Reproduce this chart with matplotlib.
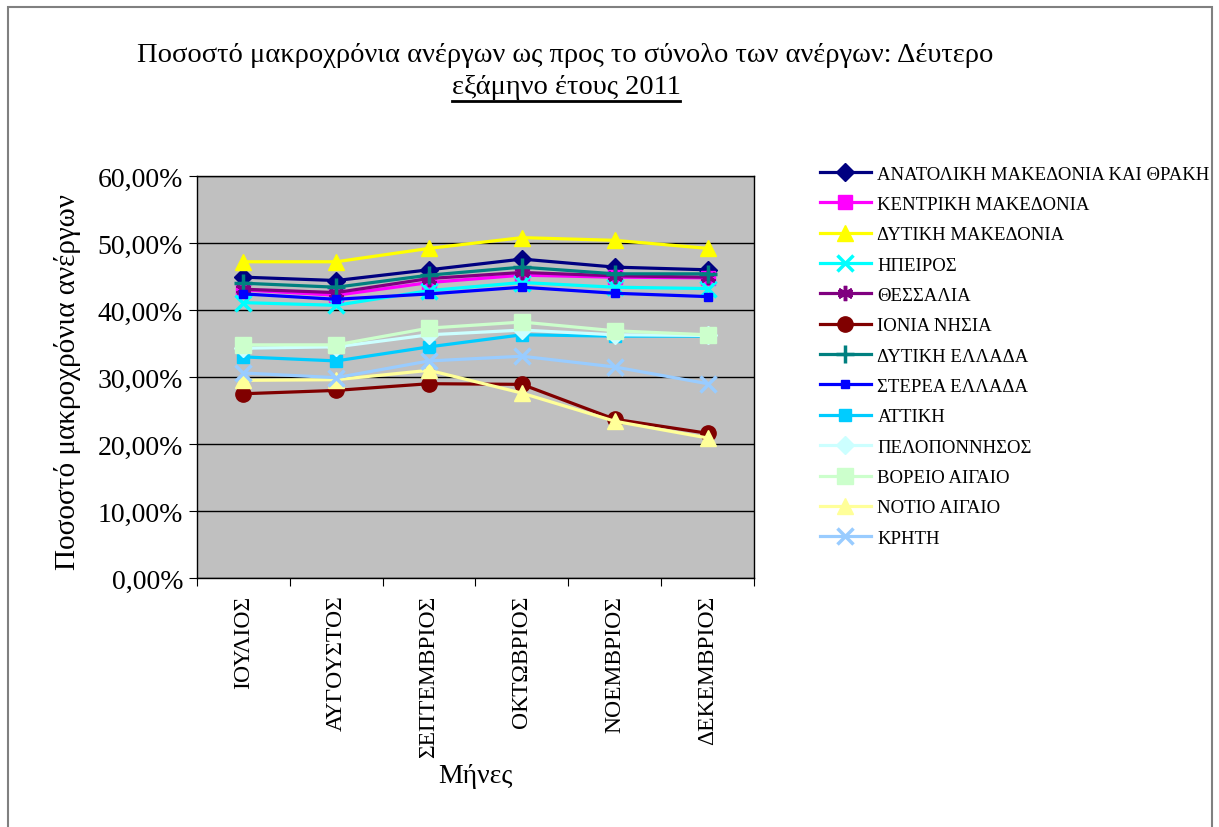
import matplotlib
matplotlib.use('Agg')
import matplotlib.pyplot as plt
from matplotlib.lines import Line2D
from matplotlib.patches import Rectangle
from matplotlib.ticker import FuncFormatter, FixedLocator

months = ["ΙΟΥΛΙΟΣ", "ΑΥΓΟΥΣΤΟΣ", "ΣΕΠΤΕΜΒΡΙΟΣ", "ΟΚΤΩΒΡΙΟΣ", "ΝΟΕΜΒΡΙΟΣ", "ΔΕΚΕΜΒΡΙΟΣ"]

regions = ["ΑΝΑΤΟΛΙΚΗ ΜΑΚΕΔΟΝΙΑ ΚΑΙ ΘΡΑΚΗ", "ΚΕΝΤΡΙΚΗ ΜΑΚΕΔΟΝΙΑ", "ΔΥΤΙΚΗ ΜΑΚΕΔΟΝΙΑ",
           "ΗΠΕΙΡΟΣ", "ΘΕΣΣΑΛΙΑ", "ΙΟΝΙΑ ΝΗΣΙΑ", "ΔΥΤΙΚΗ ΕΛΛΑΔΑ", "ΣΤΕΡΕΑ ΕΛΛΑΔΑ",
           "ΑΤΤΙΚΗ", "ΠΕΛΟΠΟΝΝΗΣΟΣ", "ΒΟΡΕΙΟ ΑΙΓΑΙΟ", "ΝΟΤΙΟ ΑΙΓΑΙΟ", "ΚΡΗΤΗ"]

anat_makedonia = [44.9, 44.4, 46.0, 47.6, 46.4, 46.0]
kentr_makedonia = [43.0, 42.2, 44.1, 45.2, 44.9, 44.8]
dyt_makedonia = [47.2, 47.2, 49.2, 50.8, 50.4, 49.2]
ipeiros = [41.1, 40.7, 42.9, 44.1, 43.4, 43.2]
thessalia = [43.1, 42.6, 44.7, 45.6, 45.1, 44.9]
ionia = [27.5, 28.0, 29.0, 28.9, 23.7, 21.6]
dyt_ellada = [44.0, 43.4, 45.2, 46.4, 45.4, 45.4]
sterea = [42.4, 41.6, 42.4, 43.4, 42.5, 42.0]
attiki = [33.0, 32.4, 34.5, 36.3, 36.1, 36.1]
peloponnisos = [34.3, 34.5, 36.3, 37.0, 36.3, 36.2]
voreio_aigaio = [34.8, 34.8, 37.3, 38.2, 36.9, 36.3]
notio_aigaio = [29.5, 29.6, 31.0, 27.6, 23.4, 20.9]
kriti = [30.6, 29.9, 32.4, 33.1, 31.5, 29.0]

series = [anat_makedonia, kentr_makedonia, dyt_makedonia, ipeiros, thessalia, ionia,
          dyt_ellada, sterea, attiki, peloponnisos, voreio_aigaio, notio_aigaio, kriti]

colors = ["#000080", "#FF00FF", "#FFFF00", "#00FFFF", "#800080", "#800000",
          "#008080", "#0000FF", "#00CCFF", "#CCFFFF", "#CCFFCC", "#FFFF99", "#99CCFF"]
markers = ["D", "s", "^", "x", (6, 2, 0), "o", "+", "s", "s", "D", "s", "^", "x"]
msizes = [9, 10, 11, 11, 11, 11, 13, 6, 8, 9, 11, 11, 12]
mews = [1, 1, 1, 2.5, 2.5, 1, 2.5, 1, 1, 1, 1, 1, 2.5]

plt.rcParams['font.family'] = ['Liberation Serif', 'DejaVu Serif']

W, H = 1219, 828
fig = plt.figure(figsize=(W / 100, H / 100), dpi=100)

# outer chart border
fig.add_artist(Rectangle((8 / W, -0.05), (1212 - 8) / W, 1 - 8 / H + 0.05,
                         transform=fig.transFigure, fill=False, ec="#808080", lw=1.5))

ax = fig.add_axes([197 / W, 1 - 579 / H, (754 - 197) / W, (579 - 177) / H])
ax.set_facecolor("#C0C0C0")

x = list(range(len(months)))
for name, vals, c, m, ms, mew in zip(regions, series, colors, markers, msizes, mews):
    ax.plot(x, vals, color=c, marker=m, ms=ms, mew=mew, mfc=c, mec=c, lw=2.3,
            label=name, clip_on=False, zorder=3)

ax.set_xlim(-0.5, 5.5)
ax.set_ylim(0, 60)
ax.yaxis.set_major_locator(FixedLocator(list(range(0, 61, 10))))
ax.yaxis.set_major_formatter(FuncFormatter(lambda v, p: f"{v:.2f}%".replace('.', ',')))
ax.grid(axis='y', color='black', lw=1)
ax.set_axisbelow(True)
for s in ax.spines.values():
    s.set_color('black')
    s.set_linewidth(1)

ax.set_xticks([i - 0.5 for i in range(7)])
ax.set_xticklabels([])
ax.set_xticks(x, minor=True)
ax.set_xticklabels(months, minor=True, rotation=90, fontsize=17)
ax.tick_params(axis='x', which='minor', length=0, pad=12)
ax.tick_params(axis='x', which='major', length=6, direction='out', color='black')
ax.tick_params(axis='y', labelsize=20, length=6, direction='out', pad=4)

fig.text(68 / W, 1 - 382 / H, "Ποσοστό μακροχρόνια ανέργων", rotation=90,
         ha='center', va='center', fontsize=21)
fig.text(475 / W, 1 - 777 / H, "Μήνες", ha='center', va='center', fontsize=20)

t1 = fig.text(565 / W, 1 - 55 / H,
              "Ποσοστό μακροχρόνια ανέργων ως προς το σύνολο των ανέργων: Δέυτερο",
              ha='center', va='center', fontsize=20.5)
t2 = fig.text(566 / W, 1 - 88 / H, "εξάμηνο έτους 2011",
              ha='center', va='center', fontsize=20.5)

fig.legend(loc='upper left', bbox_to_anchor=(812 / W, 1 - 159 / H), frameon=False,
           fontsize=13.5, labelspacing=0.705, handlelength=2.72, handletextpad=0.37,
           borderaxespad=0)

fig.canvas.draw()
bb = t2.get_window_extent(renderer=fig.canvas.get_renderer())
inv = fig.transFigure.inverted()
(x0, y0), (x1, y1) = inv.transform([(bb.x0, bb.y0 - 1), (bb.x1, bb.y0 - 1)])
fig.add_artist(Line2D([x0, x1], [y0, y1], transform=fig.transFigure, color='black', lw=2))

fig.savefig("out.png", dpi=100)
